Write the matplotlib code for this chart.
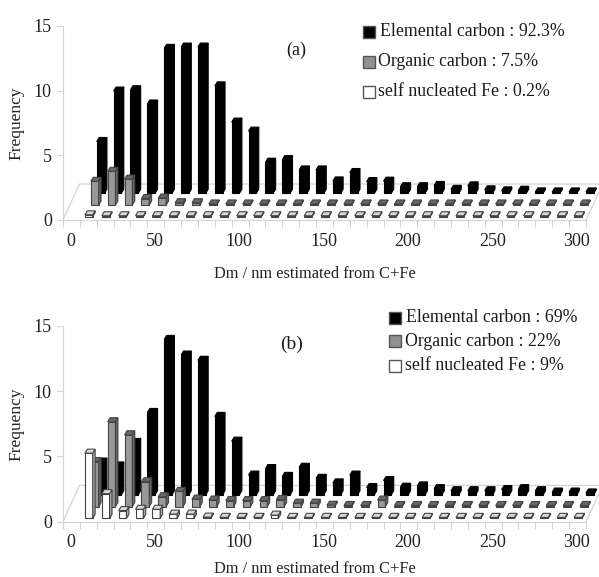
import matplotlib
matplotlib.use("Agg")
import matplotlib.pyplot as plt
from matplotlib.patches import Polygon, Rectangle

plt.rcParams['font.family'] = ['Liberation Serif', 'DejaVu Serif']

W, H = 599, 577

# bins 10..300 nm, one value per bin (bin 0 is empty)
elemental_a = [4.0, 7.9, 8.0, 6.9, 11.2, 11.3, 11.3, 8.3, 5.5, 4.8, 2.4, 2.6, 1.8, 1.8, 0.95,
               1.6, 0.9, 0.93, 0.5, 0.5, 0.6, 0.3, 0.57, 0.26, 0.18, 0.23, 0.1, 0.1, 0.1, 0.1]
organic_a = [1.83, 2.6, 2.0, 0.5, 0.54, 0.18, 0.18, 0.08, 0.08, 0.08, 0.08, 0.08, 0.08, 0.08, 0.08,
             0.08, 0.08, 0.08, 0.08, 0.08, 0.08, 0.08, 0.08, 0.08, 0.08, 0.08, 0.08, 0.08, 0.08, 0.08]
fe_a = [0.15, 0.08, 0.08, 0.08, 0.08, 0.08, 0.08, 0.08, 0.08, 0.08, 0.08, 0.08, 0.08, 0.08, 0.08,
        0.08, 0.08, 0.08, 0.08, 0.08, 0.08, 0.08, 0.08, 0.08, 0.08, 0.08, 0.08, 0.08, 0.08, 0.08]

elemental_b = [2.5, 2.2, 4.0, 6.3, 11.9, 10.7, 10.3, 6.0, 4.1, 1.5, 2.0, 1.4, 2.1, 1.25, 0.9,
               1.5, 0.54, 1.08, 0.57, 0.67, 0.46, 0.3, 0.3, 0.3, 0.39, 0.46, 0.3, 0.2, 0.2, 0.13]
organic_b = [3.45, 6.5, 5.5, 1.9, 0.75, 1.16, 0.57, 0.5, 0.46, 0.46, 0.46, 0.54, 0.26, 0.26, 0.1,
             0.08, 0.08, 0.5, 0.08, 0.08, 0.08, 0.08, 0.08, 0.08, 0.08, 0.08, 0.08, 0.08, 0.08, 0.08]
fe_b = [5.0, 1.9, 0.6, 0.7, 0.7, 0.33, 0.33, 0.1, 0.08, 0.08, 0.08, 0.25, 0.08, 0.08, 0.08,
        0.08, 0.08, 0.08, 0.08, 0.08, 0.08, 0.08, 0.08, 0.08, 0.08, 0.08, 0.08, 0.08, 0.08, 0.08]

bin_labels = ['0', '50', '100', '150', '200', '250', '300']
y_ticks = [0, 5, 10, 15]

legend_a = ['Elemental carbon : 92.3%', 'Organic carbon : 7.5%', 'self nucleated Fe : 0.2%']
legend_b = ['Elemental carbon : 69%', 'Organic carbon : 22%', 'self nucleated Fe : 9%']

# front, side, top colours
black_cols = ('#000000', '#000000', '#000000')
grey_cols = ('#999999', '#666666', '#666666')
white_cols = ('#ffffff', '#a8a8a8', '#d8d8d8')
edge = '#444444'
axis_col = '#d4d4d4'
text_col = '#222222'

BAR_W = 0.46
SIDE_DX = 0.145
SIDE_DY = 0.31
STEP_X = 0.35
STEP_Y = 0.91
START_X = 0.30
START_Y = 0.25


def bar3d(ax, x, base, h, cols, ec):
    r = x + BAR_W
    t = base + h
    ax.add_patch(Polygon([(x, base), (r, base), (r, t), (x, t)], fc=cols[0], ec=ec, lw=0.8, clip_on=False))
    ax.add_patch(Polygon([(r, base), (r + SIDE_DX, base + SIDE_DY), (r + SIDE_DX, t + SIDE_DY), (r, t)],
                         fc=cols[1], ec=ec, lw=0.8, clip_on=False))
    ax.add_patch(Polygon([(x, t), (r, t), (r + SIDE_DX, t + SIDE_DY), (x + SIDE_DX, t + SIDE_DY)],
                         fc=cols[2], ec=ec, lw=0.8, clip_on=False))


def panel(y15, y0, elemental, organic, fe):
    ax = fig.add_axes([63 / W, 1 - y0 / H, (W - 63) / W, (y0 - y15) / H])
    ax.set_xlim(0, (W - 63) / 16.87)
    ax.set_ylim(0, 15)
    ax.patch.set_alpha(0)
    for s in ['top', 'right']:
        ax.spines[s].set_visible(False)
    for s in ['left', 'bottom']:
        ax.spines[s].set_color(axis_col)
    ax.spines['bottom'].set_bounds(0, 31)

    ax.set_xticks(range(32))
    ax.set_xticklabels([])
    ax.set_xticks([i * 5 + 0.45 for i in range(7)], minor=True)
    ax.set_xticklabels(bin_labels, minor=True, fontsize=13, color=text_col)
    ax.tick_params(axis='x', which='major', length=5, color=axis_col)
    ax.tick_params(axis='x', which='minor', length=0, pad=9)
    ax.set_yticks(y_ticks)
    ax.tick_params(axis='y', length=4, color=axis_col, labelsize=13, labelcolor=text_col, pad=4)

    # floor
    ax.plot([0, 0.97, 32], [0, 2.78, 2.78], color=axis_col, lw=0.9, zorder=0.5)
    ax.plot([31, 32], [0, 2.78], color=axis_col, lw=0.9, zorder=0.5)

    rows = [(2, elemental, black_cols, '#000000'), (1, organic, grey_cols, edge), (0, fe, white_cols, edge)]
    for row, vals, cols, ec in rows:
        for i, v in enumerate(vals):
            x = i + 1 + START_X + row * STEP_X
            bar3d(ax, x, START_Y + row * STEP_Y, v, cols, ec)
    ax.set_ylabel('Frequency', fontsize=12.5, color=text_col)
    ax.yaxis.set_label_coords((24 - 63) / (W - 63), 0.5)
    return ax


def legend(labels, ys, box_x, text_xs):
    for lab, y, c, tx in zip(labels, ys, ['#000000', '#909090', '#ffffff'], text_xs):
        fig.add_artist(Rectangle((box_x / W, 1 - (y + 6) / H), 12 / W, 12 / H, fc=c, ec='#555555', lw=1.0,
                                 transform=fig.transFigure))
        fig.text(tx / W, 1 - y / H, lab, fontsize=12.8, va='center', ha='left', color='#1a1a1a')


fig = plt.figure(figsize=(W / 100, H / 100), dpi=100)

panel(26, 220, elemental_a, organic_a, fe_a)
panel(326, 521.7, elemental_b, organic_b, fe_b)

legend(legend_a, [32, 62, 92], 363, [380, 378, 378])
legend(legend_b, [318, 341, 366], 389, [406, 405, 405])

fig.text(296 / W, 1 - 50 / H, '(a)', fontsize=13, ha='center', va='center', color='#1a1a1a')
fig.text(292 / W, 1 - 344 / H, '(b)', fontsize=14, ha='center', va='center', color='#1a1a1a')
fig.text(315 / W, 1 - 274 / H, 'Dm / nm estimated from C+Fe', fontsize=11.8, ha='center', va='center', color=text_col)
fig.text(315 / W, 1 - 569 / H, 'Dm / nm estimated from C+Fe', fontsize=11.8, ha='center', va='center', color=text_col)

fig.savefig('out.png', dpi=100)
